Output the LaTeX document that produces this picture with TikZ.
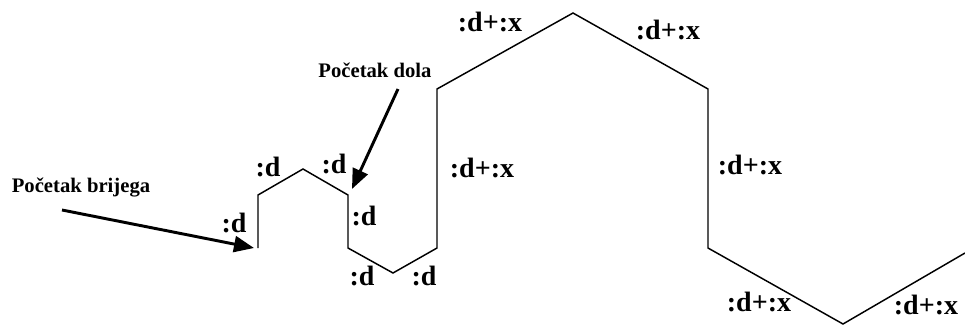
\documentclass[tikz,border=0pt]{standalone}
\usepackage{fontspec}
\setmainfont{Liberation Serif}
\usetikzlibrary{arrows.meta}
\begin{document}
\begin{tikzpicture}[x=0.75pt,y=-0.75pt,
  seg/.style={line width=1.1pt, line join=miter},
  lab/.style={font=\bfseries\fontsize{21}{24}\selectfont, inner sep=0pt},
  note/.style={font=\bfseries\fontsize{15.5}{17}\selectfont, inner sep=0pt},
  pointer/.style={line width=2.2pt, -{Triangle[length=15pt,width=12pt]}}]
\useasboundingbox (0,0) rectangle (965,326);
% path points
\coordinate (p0) at (258,248);
\coordinate (p1) at (258,195);
\coordinate (p2) at (303,169);
\coordinate (p3) at (348,195);
\coordinate (p4) at (348,248);
\coordinate (p5) at (393,273);
\coordinate (p6) at (437,248);
\coordinate (p7) at (437,89);
\coordinate (p8) at (573,13);
\coordinate (p9) at (708,89);
\coordinate (p10) at (708,248);
\coordinate (p11) at (843,324);
\coordinate (p12) at (965,253);
\draw[seg] (p0) -- (p1) -- (p2) -- (p3) -- (p4) -- (p5) -- (p6) -- (p7) -- (p8) -- (p9) -- (p10) -- (p11) -- (p12);
% labels
\node[lab] (l1) at (234,223) {:d};
\node[lab] (l2) at (268,167) {:d};
\node[lab] (l3) at (334,164) {:d};
\node[lab] (l4) at (364,216) {:d};
\node[lab] (l5) at (362,276) {:d};
\node[lab] (l6) at (424,276) {:d};
\node[lab] (l7) at (490,22) {:d+:x};
\node[lab] (l8) at (668,30) {:d+:x};
\node[lab] (l9) at (482,168) {:d+:x};
\node[lab] (l10) at (750,165) {:d+:x};
\node[lab] (l11) at (759,302) {:d+:x};
\node[lab] (l12) at (926,305) {:d+:x};
% notes
\node[note] (n1) at (375,70) {Početak dola};
\node[note] (n2) at (81,187) {Početak brijega};
\coordinate (a1s) at (398,89);
\coordinate (a1e) at (352,189);
\coordinate (a2s) at (62,210);
\coordinate (a2e) at (254,248);
\draw[pointer] (a1s) -- (a1e);
\draw[pointer] (a2s) -- (a2e);
\end{tikzpicture}
\end{document}
